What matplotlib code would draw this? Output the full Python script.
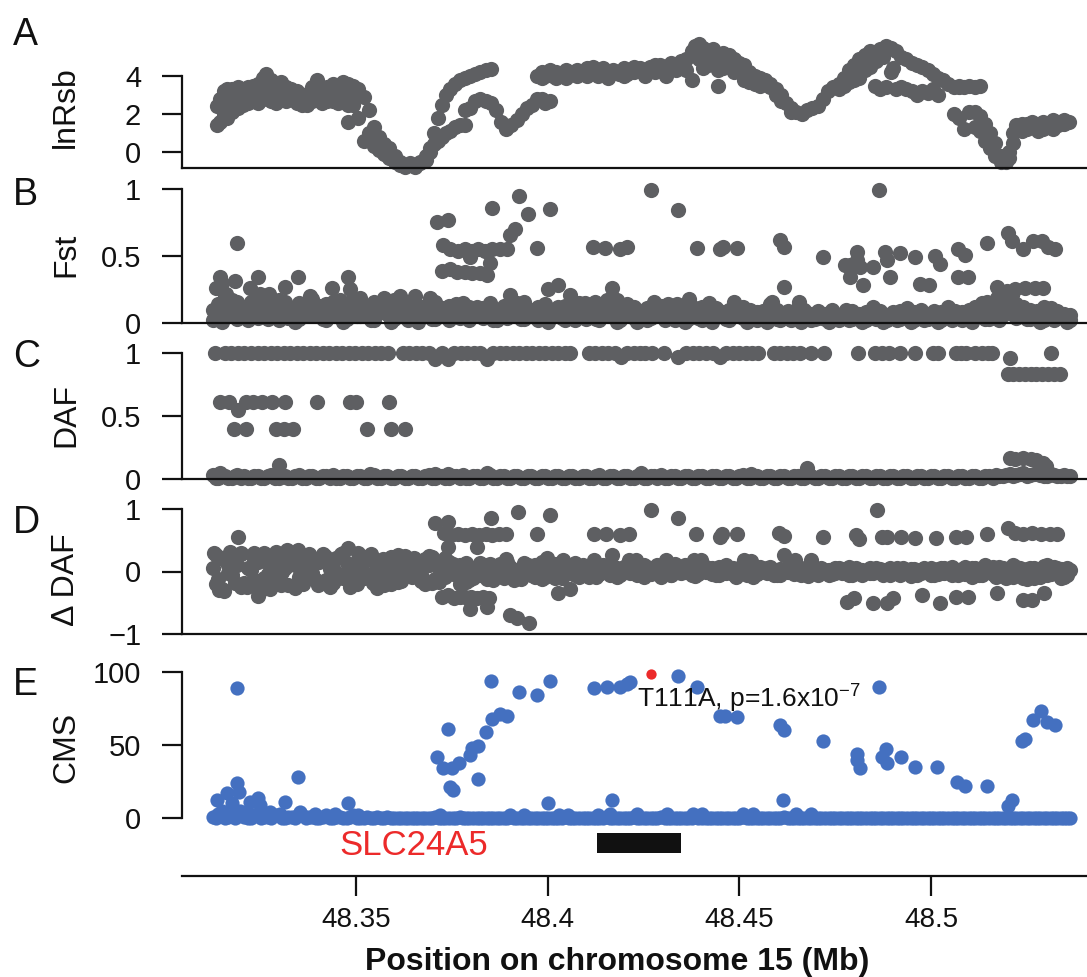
import matplotlib
matplotlib.use("Agg")
import matplotlib.pyplot as plt
from matplotlib.patches import Rectangle

plt.rcParams['font.family'] = ['Liberation Sans', 'DejaVu Sans']
plt.rcParams['mathtext.fontset'] = 'custom'
plt.rcParams['mathtext.rm'] = 'Liberation Sans'
plt.rcParams['mathtext.it'] = 'Liberation Sans:italic'
plt.rcParams['mathtext.bf'] = 'Liberation Sans:bold'

# ---------------- data ----------------
x_ticks = [48.35, 48.4, 48.45, 48.5]
x_tick_labels = ['48.35', '48.4', '48.45', '48.5']
nan = float('nan')

# panel A : lnRsb (two tracks + extras)
lnrsb_pos = [
    48.3137, 48.3145, 48.3156, 48.3164, 48.3177, 48.3191, 48.3204, 48.3218, 48.3231, 48.3245,
    48.3258, 48.3266, 48.3277, 48.3291, 48.3304, 48.3318, 48.3331, 48.3345, 48.3358, 48.3371,
    48.3385, 48.3398, 48.3412, 48.3425, 48.3439, 48.3452, 48.3466, 48.3479, 48.3493, 48.3506,
    48.3520, 48.3533, 48.3547, 48.3560, 48.3574, 48.3587, 48.3601, 48.3614, 48.3628, 48.3641,
    48.3655, 48.3668, 48.3682, 48.3692, 48.3703, 48.3714, 48.3725, 48.3735, 48.3746, 48.3757,
    48.3770, 48.3784, 48.3797, 48.3811, 48.3824, 48.3838, 48.3851, 48.3865, 48.3878, 48.3892,
    48.3905, 48.3919, 48.3932, 48.3946, 48.3959, 48.3972, 48.3986, 48.3994, 48.4007, 48.4021,
    48.4035, 48.4048, 48.4062, 48.4076, 48.4089, 48.4103, 48.4117, 48.4130, 48.4144, 48.4158,
    48.4171, 48.4185, 48.4199, 48.4212, 48.4226, 48.4240, 48.4253, 48.4267, 48.4281, 48.4294,
    48.4308, 48.4322, 48.4335, 48.4349, 48.4362, 48.4376, 48.4384, 48.4395, 48.4406, 48.4417,
    48.4431, 48.4444, 48.4458, 48.4472, 48.4485, 48.4499, 48.4513, 48.4526, 48.4540, 48.4554,
    48.4567, 48.4581, 48.4595, 48.4608, 48.4622, 48.4636, 48.4649, 48.4663, 48.4677, 48.4690,
    48.4704, 48.4718, 48.4731, 48.4745, 48.4759, 48.4772, 48.4786, 48.4800, 48.4813, 48.4827,
    48.4841, 48.4854, 48.4868, 48.4882, 48.4895, 48.4909, 48.4922, 48.4936, 48.4950, 48.4963,
    48.4977, 48.4991, 48.5004, 48.5018, 48.5032, 48.5045, 48.5059, 48.5073, 48.5086, 48.5100,
    48.5114, 48.5127, 48.5141, 48.5155, 48.5168, 48.5182, 48.5196, 48.5204, 48.5215, 48.5223,
    48.5237, 48.5250, 48.5264, 48.5278, 48.5291, 48.5305, 48.5319, 48.5332, 48.5346, 48.5360]
lnrsb_hi = [
    2.4, 2.8, 3.2, 3.3, 3.3, 3.4, 3.2, 3.4, 3.5, 3.6,
    3.9, 4.1, 3.8, 3.5, 3.7, 3.4, 3.3, 3.2, 3.0, 2.9,
    3.4, 3.8, 3.3, 3.4, 3.6, 3.3, 3.7, 3.6, 3.5, 3.3,
    2.9, 2.2, 1.3, 0.8, 0.4, 0.2, -0.2, -0.5, -0.7, -0.6,
    -0.7, -0.5, -0.2, 0.2, 1.0, 1.8, 2.5, 3.0, 3.3, 3.6,
    3.8, 3.9, 4.0, 4.1, 4.2, 4.3, 4.35, nan, nan, nan,
    nan, nan, nan, nan, nan, 4.0, 4.2, 4.0, 4.3, 4.2,
    4.1, 4.3, 4.2, 4.3, 4.2, 4.4, 4.5, 4.3, 4.4, 4.2,
    4.3, 4.1, 4.4, 4.3, 4.5, 4.4, 4.3, 4.5, 4.6, 4.6,
    4.4, 4.7, 4.6, 4.8, 4.9, 5.3, 5.6, 5.7, 5.5, 5.2,
    5.4, 5.0, 5.2, 5.1, 4.9, 4.7, 4.6, 4.2, 4.0, 3.9,
    3.8, 3.6, 3.3, 3.0, 2.6, 2.3, 2.1, 2.0, 2.2, 2.3,
    2.4, 2.8, 3.2, 3.4, 3.6, 3.9, 4.3, 4.6, 4.9, 5.1,
    5.3, 5.2, 5.4, 5.6, 5.5, 5.3, 5.0, 4.9, 4.7, 4.6,
    4.5, 4.3, 4.1, 3.9, 3.8, 3.6, 3.4, 3.5, 3.4, 3.5,
    3.4, 3.5, 1.5, 1.0, 0.5, -0.2, -0.5, 0.0, 1.0, 1.4,
    1.5, 1.5, 1.6, 1.5, 1.6, 1.5, 1.7, 1.6, 1.7, 1.6]
lnrsb_lo = [
    1.4, 1.6, 2.0, 1.8, 2.1, 2.3, 2.5, 2.6, 2.7, 2.6,
    2.8, 3.0, 2.7, 2.6, 2.8, 2.7, 2.8, 2.6, 2.5, 2.5,
    2.7, 2.8, 2.6, 2.7, 2.7, 2.6, 2.7, 1.6, 2.5, 1.8,
    0.6, 1.0, 0.3, 0.1, -0.1, -0.3, -0.5, -0.7, -0.8, -0.7,
    -0.8, -0.6, -0.4, 0.0, 0.4, 0.6, 0.8, 1.0, 1.1, 1.3,
    1.4, 1.4, 2.3, 2.7, 2.8, 2.7, 2.6, 2.2, 1.6, 1.2,
    1.4, 1.7, 2.0, 2.3, 2.5, 2.8, 3.9, 2.6, 2.7, 3.9,
    nan, 3.9, nan, 4.0, nan, 4.0, nan, 4.0, nan, 3.9,
    nan, nan, 4.0, nan, 4.2, nan, 4.0, nan, 4.2, nan,
    4.0, nan, 4.3, nan, 4.3, 3.8, nan, 4.9, 4.4, 4.6,
    4.8, 4.3, 4.4, 4.6, 4.2, 4.4, 3.8, 3.7, 3.6, 3.5,
    3.6, 3.4, 3.0, 2.7, nan, 2.1, nan, nan, nan, nan,
    nan, nan, nan, nan, 3.3, 3.5, 3.7, 3.8, 3.9, 4.3,
    4.5, 3.5, 3.3, 3.4, 4.2, 3.3, 3.4, 3.3, 3.2, 3.0,
    3.2, 3.1, 3.3, 3.0, nan, nan, 2.0, 1.8, 1.2, 2.1,
    2.1, 1.9, 0.6, 0.2, -0.2, -0.5, nan, -0.3, 0.5, 1.2,
    1.1, 1.2, 1.3, 1.1, 1.2, 1.3, 1.2, 1.4, 1.5, nan]
lnrsb_extra_pos = [
    48.3191, 48.3784, 48.3986, 48.4444, 48.5073, 48.5114, 48.5127, 48.3479, 48.3150, 48.3170,
    48.3197, 48.3224, 48.3251, 48.3271, 48.3298, 48.3324, 48.3351, 48.3378, 48.3405, 48.3432,
    48.3459, 48.3486, 48.3500, 48.4014, 48.4041, 48.4069, 48.4096, 48.4124, 48.4151, 48.4178,
    48.4206, 48.4233, 48.4260, 48.4288, 48.4315, 48.4342, 48.4390, 48.4856, 48.4875, 48.4902]
lnrsb_extra_val = [
    2.8, 2.2, 2.8, 3.5, 3.4, 1.3, 1.1, 2.5, 2.5, 2.8,
    3.0, 3.0, 3.2, 3.5, 3.2, 3.0, 2.9, 3.1, 3.2, 3.1,
    3.0, 3.0, 3.0, 4.0, 4.0, 4.1, 4.2, 4.2, 4.1, 4.2,
    4.1, 4.3, 4.2, 4.4, 4.5, 4.5, 5.1, 4.8, 5.0, 4.4]

# SNP positions used for the low-value bands of panels B-E
snp_pos = [
    48.3127, 48.3141, 48.3158, 48.3176, 48.3190, 48.3209, 48.3226, 48.3244, 48.3261, 48.3279,
    48.3298, 48.3314, 48.3333, 48.3350, 48.3369, 48.3385, 48.3404, 48.3422, 48.3439, 48.3457,
    48.3476, 48.3493, 48.3511, 48.3528, 48.3547, 48.3564, 48.3582, 48.3600, 48.3617, 48.3636,
    48.3653, 48.3671, 48.3690, 48.3707, 48.3725, 48.3742, 48.3761, 48.3778, 48.3796, 48.3815,
    48.3832, 48.3850, 48.3867, 48.3886, 48.3903, 48.3921, 48.3939, 48.3957, 48.3975, 48.3992,
    48.4010, 48.4028, 48.4046, 48.4063, 48.4082, 48.4099, 48.4117, 48.4135, 48.4153, 48.4170,
    48.4189, 48.4206, 48.4224, 48.4242, 48.4260, 48.4277, 48.4296, 48.4313, 48.4331, 48.4349,
    48.4367, 48.4384, 48.4403, 48.4420, 48.4438, 48.4456, 48.4474, 48.4491, 48.4510, 48.4527,
    48.4545, 48.4563, 48.4581, 48.4598, 48.4617, 48.4634, 48.4652, 48.4670, 48.4688, 48.4705,
    48.4724, 48.4741, 48.4759, 48.4777, 48.4795, 48.4812, 48.4831, 48.4848, 48.4866, 48.4884,
    48.4902, 48.4919, 48.4938, 48.4955, 48.4973, 48.4991, 48.5009, 48.5026, 48.5045, 48.5062,
    48.5080, 48.5098, 48.5116, 48.5133, 48.5152, 48.5169, 48.5187, 48.5205, 48.5223, 48.5240,
    48.5259, 48.5276, 48.5294, 48.5312, 48.5330, 48.5347, 48.5362]
snp_pos2 = [
    48.3134, 48.3150, 48.3167, 48.3183, 48.3199, 48.3217, 48.3235, 48.3252, 48.3270, 48.3288,
    48.3306, 48.3323, 48.3341, 48.3360, 48.3377, 48.3395, 48.3413, 48.3431, 48.3448, 48.3467,
    48.3485, 48.3502, 48.3520, 48.3538, 48.3556, 48.3573, 48.3591, 48.3609, 48.3627, 48.3645,
    48.3662, 48.3680, 48.3699, 48.3716, 48.3733, 48.3752, 48.3770, 48.3787, 48.3806, 48.3824,
    48.3841, 48.3858, 48.3876, 48.3895, 48.3912, 48.3930, 48.3948, 48.3966, 48.3984, 48.4001,
    48.4019, 48.4037, 48.4055, 48.4072, 48.4091, 48.4108, 48.4126, 48.4144, 48.4162, 48.4180,
    48.4198, 48.4215, 48.4233, 48.4251, 48.4269, 48.4286, 48.4305, 48.4322, 48.4340, 48.4358,
    48.4376, 48.4393, 48.4412, 48.4429, 48.4447, 48.4465, 48.4483, 48.4500, 48.4519, 48.4536,
    48.4554, 48.4572, 48.4590, 48.4607, 48.4626, 48.4643, 48.4661, 48.4679, 48.4697, 48.4714,
    48.4733, 48.4750, 48.4768, 48.4786, 48.4804, 48.4821, 48.4840, 48.4857, 48.4875, 48.4893,
    48.4911, 48.4928, 48.4947, 48.4964, 48.4982, 48.5000, 48.5018, 48.5035, 48.5054, 48.5071,
    48.5089, 48.5107, 48.5125, 48.5142, 48.5161, 48.5178, 48.5196, 48.5214, 48.5232, 48.5250,
    48.5268, 48.5285, 48.5303, 48.5321, 48.5339, 48.5355]

# panel B : Fst
fst_base = [
    0.02, 0.14, 0.05, 0.17, 0.03, 0.12, 0.16, 0.04, 0.15, 0.08,
    0.02, 0.16, 0.10, 0.03, 0.15, 0.06, 0.13, 0.02, 0.16, 0.09,
    0.03, 0.15, 0.05, 0.12, 0.02, 0.08, 0.14, 0.03, 0.10, 0.02,
    0.13, 0.05, 0.15, 0.03, 0.11, 0.02, 0.14, 0.06, 0.02, 0.12,
    0.04, 0.09, 0.02, 0.13, 0.05, 0.15, 0.03, 0.10, 0.02, 0.14,
    0.05, 0.12, 0.02, 0.08, 0.15, 0.03, 0.10, 0.02, 0.13, 0.06,
    0.02, 0.14, 0.04, 0.09, 0.02, 0.12, 0.05, 0.14, 0.02, 0.08,
    0.03, 0.11, 0.02, 0.15, 0.05, 0.08, 0.02, 0.13, 0.04, 0.10,
    0.02, 0.09, 0.14, 0.03, 0.07, 0.02, 0.11, 0.04, 0.02, 0.09,
    0.03, 0.06, 0.02, 0.10, 0.03, 0.07, 0.02, 0.12, 0.04, 0.02,
    0.08, 0.03, 0.11, 0.02, 0.06, 0.03, 0.09, 0.02, 0.12, 0.04,
    0.02, 0.10, 0.05, 0.15, 0.03, 0.13, 0.06, 0.16, 0.04, 0.12,
    0.03, 0.09, 0.02, 0.11, 0.04, 0.07, 0.02]
fst_base2 = [
    0.08, 0.01, 0.10, 0.06, 0.09, 0.02, 0.07, 0.10, 0.03, 0.12,
    0.07, 0.04, 0.01, 0.09, 0.06, 0.11, 0.03, 0.09, 0.05, 0.01,
    0.09, 0.05, 0.10, 0.02, 0.09, 0.12, 0.01, 0.08, 0.05, 0.10,
    0.01, 0.09, 0.03, 0.10, 0.06, 0.09, 0.04, 0.11, 0.07, 0.05,
    0.10, 0.02, 0.08, 0.04, 0.10, 0.03, 0.08, 0.05, 0.09, 0.01,
    0.09, 0.04, 0.09, 0.02, 0.06, 0.10, 0.03, 0.09, 0.05, 0.01,
    0.09, 0.05, 0.01, 0.08, 0.04, 0.07, 0.02, 0.06, 0.09, 0.01,
    0.07, 0.04, 0.08, 0.01, 0.09, 0.03, 0.07, 0.05, 0.01, 0.06,
    0.05, 0.01, 0.06, 0.02, 0.09, 0.04, 0.01, 0.07, 0.03, 0.05,
    0.01, 0.04, 0.07, 0.02, 0.05, 0.01, 0.06, 0.03, 0.01, 0.05,
    0.02, 0.06, 0.01, 0.05, 0.02, 0.06, 0.01, 0.05, 0.02, 0.07,
    0.05, 0.01, 0.09, 0.03, 0.08, 0.02, 0.10, 0.07, 0.09, 0.03,
    0.06, 0.01, 0.08, 0.02, 0.05, 0.01]
fst_base3 = [
    0.10, 0.07, 0.20, 0.09, 0.16, 0.06, 0.10, 0.18, 0.08, 0.13,
    0.17, 0.09, 0.06, 0.15, 0.08, 0.18, 0.07, 0.14, 0.10, 0.17,
    0.08, 0.18, 0.11, 0.06, 0.16, 0.12, 0.07, 0.17, 0.05, 0.14,
    0.07, 0.12, 0.08, 0.16, 0.06, 0.13, 0.09, 0.15, 0.12, 0.06,
    0.11, 0.15, 0.07, 0.06, 0.12, 0.08, 0.16, 0.05, 0.12, 0.07,
    0.10, 0.06, 0.13, 0.11, 0.07, 0.12, 0.06, 0.14, 0.08, 0.11,
    0.11, 0.07, 0.12, 0.05, 0.11, 0.06, 0.13, 0.08, 0.11, 0.05,
    0.10, 0.06, 0.12, 0.07, 0.11, 0.05, 0.10, 0.07, 0.12, 0.05,
    0.08, 0.05, 0.06, 0.10, 0.04, 0.08, 0.06, 0.10, 0.07, 0.04,
    0.07, 0.10, 0.05, 0.06, 0.09, 0.04, 0.08, 0.06, 0.09, 0.06,
    0.05, 0.09, 0.06, 0.08, 0.10, 0.07, 0.05, 0.08, 0.06, 0.09,
    0.08, 0.06, 0.12, 0.09, 0.11, 0.07, 0.13, 0.10, 0.14, 0.08,
    0.10, 0.06, 0.12, 0.07, 0.09, 0.05, 0.06]
fst_pos = [
    48.3135, 48.3150, 48.3145, 48.3184, 48.3190, 48.3161, 48.3223, 48.3244, 48.3250, 48.3273,
    48.3315, 48.3349, 48.3380, 48.3437, 48.3479, 48.3484, 48.3510, 48.3573, 48.3615, 48.3654,
    48.3693, 48.3711, 48.3740, 48.3855, 48.3925, 48.3949, 48.4006, 48.3902, 48.3915, 48.3972,
    48.3727, 48.3745, 48.3766, 48.3784, 48.3803, 48.3818, 48.3837, 48.3855, 48.3876, 48.3894,
    48.3797, 48.3850, 48.3724, 48.3745, 48.3764, 48.3784, 48.3803, 48.3824, 48.3842, 48.3902,
    48.4001, 48.4027, 48.4058, 48.4097, 48.4124, 48.4155, 48.4168, 48.4118, 48.4150, 48.4189,
    48.4207, 48.4270, 48.4340, 48.4864, 48.4390, 48.4450, 48.4458, 48.4494, 48.4606, 48.4617,
    48.4617, 48.4718, 48.4776, 48.4789, 48.4807, 48.4807, 48.4849, 48.4815, 48.4789, 48.4823,
    48.4880, 48.4885, 48.4919, 48.4958, 48.4893, 48.5011, 48.5024, 48.4971, 48.4995, 48.5071,
    48.5089, 48.5071, 48.5097, 48.5146, 48.5172, 48.5201, 48.5211, 48.5240, 48.5266, 48.5290,
    48.5305, 48.5324, 48.5198, 48.5219, 48.5245, 48.5271, 48.5292, 48.5211, 48.4181, 48.4278,
    48.4338, 48.4369, 48.4486, 48.4585, 48.4655, 48.5146, 48.5172]
fst_val = [
    0.26, 0.30, 0.34, 0.31, 0.60, 0.22, 0.26, 0.34, 0.22, 0.22,
    0.27, 0.34, 0.20, 0.26, 0.34, 0.25, 0.19, 0.19, 0.20, 0.20,
    0.19, 0.75, 0.77, 0.86, 0.95, 0.81, 0.85, 0.66, 0.70, 0.56,
    0.58, 0.55, 0.54, 0.55, 0.54, 0.55, 0.54, 0.55, 0.55, 0.55,
    0.49, 0.45, 0.39, 0.40, 0.38, 0.38, 0.37, 0.37, 0.36, 0.21,
    0.25, 0.28, 0.21, 0.15, 0.16, 0.17, 0.26, 0.57, 0.56, 0.55,
    0.57, 0.99, 0.84, 0.99, 0.56, 0.55, 0.57, 0.56, 0.62, 0.57,
    0.27, 0.49, 0.43, 0.43, 0.53, 0.47, 0.42, 0.42, 0.34, 0.28,
    0.53, 0.47, 0.52, 0.49, 0.34, 0.50, 0.44, 0.29, 0.28, 0.55,
    0.51, 0.34, 0.34, 0.60, 0.27, 0.67, 0.61, 0.55, 0.61, 0.61,
    0.57, 0.55, 0.24, 0.25, 0.26, 0.26, 0.26, 0.21, 0.17, 0.16,
    0.14, 0.18, 0.16, 0.16, 0.16, 0.16, 0.19]

# panel C : DAF
daf_base = [
    0.03, 0.01, 0.02, 0.01, 0.03, 0.02, 0.01, 0.02, 0.01, 0.03,
    0.01, 0.02, 0.01, 0.03, 0.01, 0.02, 0.01, 0.02, 0.03, 0.01,
    0.02, 0.01, 0.02, 0.01, 0.03, 0.01, 0.02, 0.01, 0.02, 0.01,
    0.02, 0.01, 0.03, 0.01, 0.02, 0.01, 0.02, 0.03, 0.01, 0.02,
    0.01, 0.03, 0.01, 0.02, 0.01, 0.02, 0.01, 0.02, 0.01, 0.02,
    0.01, 0.02, 0.01, 0.02, 0.01, 0.02, 0.01, 0.03, 0.01, 0.02,
    0.01, 0.02, 0.01, 0.02, 0.01, 0.02, 0.03, 0.01, 0.02, 0.01,
    0.02, 0.01, 0.02, 0.01, 0.02, 0.01, 0.02, 0.01, 0.03, 0.01,
    0.02, 0.01, 0.02, 0.01, 0.02, 0.01, 0.02, 0.01, 0.02, 0.01,
    0.02, 0.01, 0.02, 0.01, 0.02, 0.01, 0.02, 0.01, 0.02, 0.01,
    0.02, 0.01, 0.02, 0.01, 0.02, 0.01, 0.02, 0.01, 0.02, 0.01,
    0.02, 0.01, 0.02, 0.01, 0.02, 0.03, 0.02, 0.04, 0.03, 0.05,
    0.03, 0.05, 0.02, 0.04, 0.02, 0.03, 0.02]
daf_base2 = [
    0.01, 0.02, 0.01, 0.02, 0.01, 0.01, 0.02, 0.01, 0.02, 0.01,
    0.02, 0.01, 0.02, 0.01, 0.02, 0.01, 0.02, 0.01, 0.01, 0.02,
    0.01, 0.02, 0.01, 0.02, 0.01, 0.02, 0.01, 0.02, 0.01, 0.02,
    0.01, 0.02, 0.01, 0.02, 0.01, 0.02, 0.01, 0.01, 0.02, 0.01,
    0.02, 0.01, 0.02, 0.01, 0.02, 0.01, 0.02, 0.01, 0.02, 0.01,
    0.02, 0.01, 0.02, 0.01, 0.02, 0.01, 0.02, 0.01, 0.02, 0.01,
    0.02, 0.01, 0.02, 0.01, 0.02, 0.01, 0.01, 0.02, 0.01, 0.02,
    0.01, 0.02, 0.01, 0.02, 0.01, 0.02, 0.01, 0.02, 0.01, 0.02,
    0.01, 0.02, 0.01, 0.02, 0.01, 0.02, 0.01, 0.02, 0.01, 0.02,
    0.01, 0.02, 0.01, 0.02, 0.01, 0.02, 0.01, 0.02, 0.01, 0.02,
    0.01, 0.02, 0.01, 0.02, 0.01, 0.02, 0.01, 0.02, 0.01, 0.02,
    0.01, 0.02, 0.01, 0.02, 0.01, 0.02, 0.03, 0.02, 0.04, 0.02,
    0.04, 0.03, 0.02, 0.03, 0.02, 0.02]
daf_top_pos = [
    48.3133, 48.3158, 48.3175, 48.3192, 48.3209, 48.3226, 48.3243, 48.3260, 48.3277, 48.3294,
    48.3311, 48.3328, 48.3345, 48.3362, 48.3379, 48.3396, 48.3413, 48.3430, 48.3447, 48.3464,
    48.3481, 48.3498, 48.3515, 48.3532, 48.3549, 48.3566, 48.3583, 48.3622, 48.3639, 48.3656,
    48.3673, 48.3690, 48.3707, 48.3724, 48.3739, 48.3756, 48.3773, 48.3790, 48.3807, 48.3824,
    48.3842, 48.3858, 48.3875, 48.3892, 48.3909, 48.3926, 48.3943, 48.3960, 48.3977, 48.3994,
    48.4011, 48.4028, 48.4045, 48.4057, 48.4107, 48.4124, 48.4141, 48.4158, 48.4175, 48.4190,
    48.4207, 48.4224, 48.4241, 48.4253, 48.4271, 48.4303, 48.4340, 48.4362, 48.4379, 48.4396,
    48.4413, 48.4430, 48.4449, 48.4466, 48.4483, 48.4500, 48.4517, 48.4534, 48.4549, 48.4590,
    48.4607, 48.4624, 48.4641, 48.4658, 48.4686, 48.4722, 48.4809, 48.4854, 48.4872, 48.4891,
    48.4918, 48.4959, 48.5004, 48.5018, 48.5064, 48.5078, 48.5091, 48.5114, 48.5132, 48.5150,
    48.5159, 48.5205, 48.5314]
daf_top_val = [
    1.0, 1.0, 1.0, 1.0, 1.0, 1.0, 1.0, 1.0, 1.0, 1.0,
    1.0, 1.0, 1.0, 1.0, 1.0, 1.0, 1.0, 1.0, 1.0, 1.0,
    1.0, 1.0, 1.0, 1.0, 1.0, 1.0, 1.0, 1.0, 1.0, 1.0,
    1.0, 1.0, 0.95, 1.0, 0.95, 1.0, 1.0, 1.0, 1.0, 1.0,
    0.95, 1.0, 1.0, 1.0, 1.0, 1.0, 1.0, 1.0, 1.0, 1.0,
    1.0, 1.0, 1.0, 1.0, 1.0, 1.0, 1.0, 1.0, 1.0, 0.97,
    1.0, 1.0, 1.0, 1.0, 1.0, 1.0, 0.97, 1.0, 1.0, 1.0,
    1.0, 1.0, 0.97, 1.0, 1.0, 1.0, 1.0, 1.0, 1.0, 1.0,
    1.0, 1.0, 1.0, 1.0, 1.0, 1.0, 1.0, 1.0, 1.0, 1.0,
    1.0, 1.0, 1.0, 1.0, 1.0, 1.0, 1.0, 1.0, 1.0, 1.0,
    1.0, 0.96, 1.0]
daf_pos = [
    48.3146, 48.3168, 48.3191, 48.3213, 48.3231, 48.3254, 48.3281, 48.3315, 48.3398, 48.3483,
    48.3501, 48.3586, 48.3182, 48.3213, 48.3290, 48.3312, 48.3335, 48.3528, 48.3591, 48.3627,
    48.3299, 48.5200, 48.5215, 48.5230, 48.5245, 48.5260, 48.5275, 48.5290, 48.5305, 48.5320,
    48.5337, 48.5205, 48.5220, 48.5240, 48.5260, 48.5275, 48.5291, 48.5300, 48.3146, 48.3537,
    48.3707, 48.3739, 48.3842, 48.4244, 48.4531, 48.4677]
daf_val = [
    0.61, 0.61, 0.55, 0.61, 0.61, 0.61, 0.61, 0.61, 0.61, 0.61,
    0.61, 0.61, 0.40, 0.40, 0.40, 0.40, 0.40, 0.40, 0.40, 0.40,
    0.11, 0.83, 0.83, 0.83, 0.83, 0.83, 0.83, 0.83, 0.83, 0.83,
    0.83, 0.17, 0.16, 0.17, 0.16, 0.15, 0.13, 0.10, 0.05, 0.04,
    0.04, 0.04, 0.05, 0.05, 0.04, 0.09]

# panel D : delta DAF
ddaf_base = [
    0.05, -0.12, 0.18, -0.05, 0.10, -0.18, 0.02, 0.15, -0.10, 0.08,
    -0.15, 0.05, 0.20, -0.08, 0.12, -0.03, 0.16, -0.14, 0.06, -0.05,
    0.14, -0.10, 0.04, 0.18, -0.12, 0.08, -0.04, 0.12, -0.15, 0.03,
    0.15, -0.08, 0.10, -0.12, 0.05, 0.16, -0.05, 0.02, -0.14, 0.08,
    -0.04, 0.12, 0.02, -0.10, 0.08, -0.02, 0.14, -0.06, 0.04, -0.08,
    0.06, -0.05, 0.10, 0.00, -0.08, 0.05, 0.12, -0.04, 0.08, 0.02,
    -0.06, 0.10, 0.03, -0.05, 0.08, 0.00, -0.08, 0.06, 0.12, -0.03,
    0.04, -0.07, 0.10, 0.02, -0.05, 0.07, 0.00, -0.08, 0.05, 0.09,
    -0.04, 0.03, 0.08, -0.06, 0.02, 0.06, -0.03, 0.00, 0.05, -0.05,
    0.02, -0.04, 0.05, 0.00, -0.06, 0.03, 0.01, -0.03, 0.04, -0.02,
    0.03, -0.05, 0.00, 0.04, -0.03, 0.02, -0.06, 0.05, 0.00, -0.04,
    0.04, -0.02, 0.06, -0.05, 0.02, -0.08, 0.05, -0.03, 0.08, -0.10,
    0.06, -0.06, 0.09, -0.04, 0.05, -0.08, 0.03]
ddaf_base2 = [
    -0.20, 0.22, -0.02, 0.12, -0.25, 0.06, -0.14, 0.24, -0.04, 0.18,
    0.00, -0.22, 0.10, 0.26, -0.06, 0.20, -0.18, 0.04, 0.22, -0.10,
    0.06, -0.20, 0.24, -0.04, 0.10, -0.22, 0.16, 0.00, 0.20, -0.08,
    -0.02, 0.20, -0.18, 0.06, 0.22, -0.02, 0.10, -0.16, 0.04, 0.14,
    -0.12, 0.06, -0.06, 0.16, -0.14, 0.04, -0.02, 0.10, -0.12, 0.06,
    -0.10, 0.08, -0.02, 0.14, 0.02, -0.08, 0.04, 0.10, -0.06, 0.05,
    0.08, -0.02, 0.06, -0.08, 0.04, 0.10, 0.02, -0.05, 0.06, 0.00,
    -0.06, 0.06, 0.00, -0.04, 0.08, -0.02, 0.05, 0.02, -0.06, 0.04,
    0.07, -0.02, -0.06, 0.04, 0.08, -0.04, 0.05, -0.07, 0.02, 0.06,
    -0.06, 0.05, -0.02, 0.07, 0.03, -0.05, 0.06, 0.02, -0.06, 0.05,
    -0.02, 0.06, -0.07, 0.03, 0.06, -0.05, 0.04, -0.02, 0.07, -0.06,
    0.08, -0.08, 0.02, 0.10, -0.04, 0.08, -0.10, 0.10, -0.06, 0.04,
    -0.10, 0.04, -0.06, 0.08, -0.10, 0.05]
ddaf_base3 = [
    0.26, -0.28, 0.10, -0.18, 0.30, -0.22, 0.20, -0.30, 0.14, -0.20,
    0.26, 0.12, -0.26, 0.04, 0.28, -0.14, 0.28, -0.24, -0.12, 0.30,
    -0.24, 0.16, -0.10, 0.28, -0.26, 0.14, -0.20, 0.26, -0.06, 0.20,
    0.10, -0.20, 0.24, -0.16, -0.08, 0.12, -0.20, 0.14, -0.10, -0.05,
    0.10, -0.14, 0.12, -0.04, 0.02, -0.12, 0.10, -0.08, 0.16, -0.04,
    0.12, -0.10, 0.06, -0.06, 0.10, -0.02, -0.08, 0.04, 0.12, -0.08,
    0.00, 0.08, -0.06, 0.10, -0.04, 0.02, 0.08, -0.06, 0.00, 0.10,
    0.02, -0.04, 0.08, 0.06, -0.06, 0.10, -0.04, 0.06, 0.02, -0.08,
    0.00, 0.06, 0.03, -0.05, 0.00, 0.05, -0.06, 0.04, -0.03, 0.02,
    0.03, -0.02, 0.04, -0.06, 0.06, 0.02, -0.03, 0.05, 0.03, -0.05,
    0.05, -0.03, 0.04, -0.06, 0.00, 0.05, -0.04, 0.06, -0.05, 0.03,
    -0.04, 0.06, -0.06, 0.03, 0.08, -0.05, 0.04, -0.08, 0.06, -0.12,
    0.05, -0.08, 0.10, -0.02, 0.04, -0.06]
ddaf_pos = [
    48.3130, 48.3143, 48.3155, 48.3170, 48.3191, 48.3200, 48.3215, 48.3233, 48.3245, 48.3260,
    48.3275, 48.3290, 48.3305, 48.3320, 48.3335, 48.3348, 48.3362, 48.3380, 48.3400, 48.3420,
    48.3440, 48.3460, 48.3478, 48.3490, 48.3505, 48.3525, 48.3545, 48.3570, 48.3591, 48.3610,
    48.3627, 48.3650, 48.3670, 48.3690, 48.3707, 48.3739, 48.3730, 48.3748, 48.3766, 48.3784,
    48.3802, 48.3820, 48.3838, 48.3856, 48.3874, 48.3892, 48.3739, 48.3815, 48.3851, 48.3923,
    48.3972, 48.3892, 48.3725, 48.3740, 48.3755, 48.3770, 48.3785, 48.3800, 48.3815, 48.3830,
    48.3847, 48.3797, 48.3842, 48.3901, 48.3919, 48.3950, 48.4007, 48.4270, 48.4340, 48.4859,
    48.4121, 48.4153, 48.4189, 48.4212, 48.4388, 48.4449, 48.4454, 48.4493, 48.4604, 48.4617,
    48.4719, 48.4804, 48.4813, 48.4872, 48.4886, 48.4921, 48.4959, 48.5014, 48.5064, 48.5091,
    48.5147, 48.5200, 48.5218, 48.5241, 48.5264, 48.5287, 48.5310, 48.5330, 48.4026, 48.4057,
    48.4781, 48.4800, 48.4850, 48.4886, 48.4900, 48.4977, 48.5023, 48.5064, 48.5096, 48.5173,
    48.5241, 48.5264, 48.5296, 48.3998, 48.4039, 48.4121, 48.4167, 48.4212, 48.4230, 48.4308,
    48.4381, 48.4399, 48.4513, 48.4531, 48.4617, 48.4645, 48.4686]
ddaf_val = [
    0.30, -0.30, -0.31, 0.32, 0.56, 0.28, -0.25, 0.30, -0.39, 0.30,
    -0.28, 0.31, -0.22, 0.34, 0.25, 0.34, -0.20, 0.25, -0.22, 0.25,
    -0.18, 0.28, 0.38, -0.20, 0.30, 0.22, -0.18, 0.20, 0.23, -0.16,
    0.25, 0.22, -0.15, 0.25, 0.77, 0.80, 0.62, 0.58, 0.60, 0.58,
    0.60, 0.58, 0.60, 0.58, 0.60, 0.60, 0.40, 0.40, 0.86, 0.95,
    0.60, 0.20, -0.41, -0.38, -0.42, -0.40, -0.41, -0.40, -0.42, -0.40,
    -0.43, -0.60, -0.57, -0.70, -0.75, -0.83, 0.90, 0.99, 0.85, 0.99,
    0.60, 0.60, 0.58, 0.60, 0.60, 0.56, 0.60, 0.60, 0.62, 0.57,
    0.55, 0.58, 0.52, 0.55, 0.55, 0.55, 0.54, 0.53, 0.56, 0.55,
    0.60, 0.70, 0.62, 0.60, 0.62, 0.60, 0.60, 0.60, -0.35, -0.28,
    -0.48, -0.42, -0.50, -0.50, -0.42, -0.38, -0.50, -0.40, -0.40, -0.35,
    -0.45, -0.45, -0.35, 0.22, 0.19, 0.19, 0.27, 0.19, 0.19, 0.19,
    0.19, 0.19, 0.19, 0.17, 0.27, 0.19, 0.19]

# panel E : CMS
cms_base = [
    1, 3, 0, 2, 4, 1, 0, 3, 1, 0,
    2, 0, 1, 3, 0, 1, 0, 2, 0, 1,
    0, 2, 0, 1, 0, 0, 1, 0, 0, 0,
    0, 0, 0, 1, 0, 0, 0, 0, 0, 0,
    0, 0, 0, 0, 1, 0, 0, 0, 0, 0,
    0, 0, 1, 0, 0, 0, 0, 0, 1, 0,
    0, 0, 1, 0, 0, 0, 1, 0, 0, 0,
    0, 1, 0, 0, 0, 0, 0, 0, 1, 0,
    0, 0, 0, 0, 1, 0, 0, 0, 0, 0,
    0, 0, 0, 0, 0, 0, 0, 0, 0, 0,
    0, 0, 0, 0, 0, 0, 0, 0, 0, 0,
    0, 0, 0, 0, 0, 0, 0, 0, 0, 0,
    0, 0, 0, 0, 0, 0, 0]
cms_base2 = [
    0, 2, 1, 0, 3, 0, 2, 0, 1, 2,
    0, 1, 0, 2, 1, 0, 1, 0, 1, 0,
    1, 0, 0, 0, 1, 0, 0, 0, 0, 0,
    0, 0, 0, 0, 0, 0, 1, 0, 0, 0,
    0, 0, 0, 0, 0, 0, 0, 0, 0, 0,
    0, 0, 0, 0, 0, 0, 0, 0, 0, 0,
    0, 0, 0, 0, 0, 0, 0, 0, 0, 0,
    0, 0, 0, 0, 0, 0, 0, 0, 0, 0,
    0, 0, 0, 0, 0, 0, 0, 0, 0, 0,
    0, 0, 0, 0, 0, 0, 0, 0, 0, 0,
    0, 0, 0, 0, 0, 0, 0, 0, 0, 0,
    0, 0, 0, 0, 0, 0, 0, 0, 0, 0,
    0, 0, 0, 0, 0, 0]
cms_pos = [
    48.3190, 48.3137, 48.3163, 48.3176, 48.3190, 48.3195, 48.3223, 48.3244, 48.3250, 48.3315,
    48.3349, 48.3276, 48.3479, 48.3711, 48.3740, 48.3727, 48.3750, 48.3745, 48.3752, 48.3769,
    48.3797, 48.3803, 48.3818, 48.3818, 48.3839, 48.3855, 48.3876, 48.3894, 48.3852, 48.3925,
    48.3972, 48.4006, 48.4001, 48.4121, 48.4155, 48.4189, 48.4207, 48.4215, 48.4168, 48.4340,
    48.4390, 48.4450, 48.4463, 48.4494, 48.4606, 48.4617, 48.4614, 48.4718, 48.4807, 48.4807,
    48.4815, 48.4864, 48.4872, 48.4883, 48.4885, 48.4922, 48.4958, 48.5016, 48.5068, 48.5089,
    48.5146, 48.5201, 48.5211, 48.5237, 48.5245, 48.5266, 48.5287, 48.5303, 48.5324, 48.3150,
    48.3197, 48.3215, 48.3302, 48.3354, 48.3393, 48.3445, 48.3506, 48.3719, 48.3902, 48.3937,
    48.4030, 48.4052, 48.4130, 48.4163, 48.4233, 48.4311, 48.4380, 48.4403, 48.4510, 48.4536,
    48.4648, 48.4686]
cms_val = [
    89, 12, 17, 10, 24, 18, 11, 14, 9, 11,
    28, 4, 10, 42, 61, 34, 34, 21, 19, 38,
    43, 48, 49, 27, 59, 68, 71, 70, 94, 86,
    84, 94, 10, 89, 90, 90, 92, 93, 12, 97,
    90, 70, 70, 69, 64, 60, 12, 53, 44, 40,
    34, 90, 42, 47, 38, 42, 35, 35, 25, 22,
    22, 8, 12, 53, 54, 67, 73, 66, 64, 5,
    5, 4, 3, 4, 3, 3, 2, 2, 2, 2,
    2, 2, 2, 3, 3, 3, 3, 3, 3, 3,
    3, 3]
cms_top_pos = [48.4270]
cms_top_val = [98.6]
top_snp_label = 'T111A, p=1.6x10$^{\\mathregular{-7}}$'

gene_name = 'SLC24A5'
gene_start, gene_end = 48.4129, 48.4348

# ---------------- figure ----------------
W, H = 1087, 977
fig = plt.figure(figsize=(W / 100, H / 100), dpi=100)

GRAY = '#5e5f62'
BLUE = '#4470c0'
RED = '#ec2a2a'
INK = '#111111'
XLIM = (48.3046, 48.5407)
AX_LEFT = 182


def fx(px):
    return px / W


def fy(py):
    return 1 - py / H


def make_axes(top, bottom, p0, v0, p1, v1, ticks, labels, spine_lo, spine_hi):
    s = (v1 - v0) / (p1 - p0)
    ylo = v0 + (bottom - p0) * s
    yhi = v0 + (top - p0) * s
    ax = fig.add_axes([AX_LEFT / W, 1 - bottom / H, (W - AX_LEFT) / W, (bottom - top) / H])
    ax.set_xlim(*XLIM)
    ax.set_ylim(ylo, yhi)
    ax.patch.set_visible(False)
    for sp in ('top', 'right'):
        ax.spines[sp].set_visible(False)
    for sp in ('left', 'bottom'):
        ax.spines[sp].set_linewidth(1.6)
        ax.spines[sp].set_color(INK)
    ax.spines['left'].set_bounds(ylo if spine_lo is None else spine_lo, spine_hi)
    ax.set_yticks(ticks)
    ax.set_yticklabels(labels)
    ax.tick_params(axis='y', direction='out', length=14.4, width=1.6, pad=15,
                   labelsize=21, color=INK, labelcolor=INK)
    ax.tick_params(axis='x', bottom=False, labelbottom=False)
    return ax


DOT = 120
BDOT = 105


def dots(ax, xs, ys, size=DOT, color=GRAY, z=2):
    ax.scatter(xs, ys, s=size, c=color, linewidths=0, clip_on=False, zorder=z)


# A
axA = make_axes(30, 168, 76, 4, 152, 0, [0, 2, 4], ['0', '2', '4'], None, 4)
dots(axA, lnrsb_pos, lnrsb_hi)
dots(axA, lnrsb_pos, lnrsb_lo)
dots(axA, lnrsb_extra_pos, lnrsb_extra_val)

# B
axB = make_axes(175, 323, 189, 1, 323, 0, [0, 0.5, 1], ['0', '0.5', '1'], 0, 1)
dots(axB, snp_pos, fst_base3)
dots(axB, snp_pos, fst_base)
dots(axB, snp_pos2, fst_base2)
dots(axB, fst_pos, fst_val)

# C
axC = make_axes(335, 479, 353, 1, 479, 0, [0, 0.5, 1], ['0', '0.5', '1'], 0, 1)
dots(axC, snp_pos, daf_base)
dots(axC, snp_pos2, daf_base2)
dots(axC, daf_top_pos, daf_top_val)
dots(axC, daf_pos, daf_val)

# D
axD = make_axes(492, 634, 509, 1, 634, -1, [-1, 0, 1], ['\u22121', '0', '1'], -1, 1)
dots(axD, snp_pos, ddaf_base)
dots(axD, snp_pos2, ddaf_base2)
dots(axD, snp_pos2, ddaf_base3)
dots(axD, ddaf_pos, ddaf_val)

# E
axE = make_axes(650, 876, 672, 100, 818, 0, [0, 50, 100], ['0', '50', '100'], 0, 100)
dots(axE, snp_pos, cms_base, BDOT, BLUE)
dots(axE, snp_pos2, cms_base2, BDOT, BLUE)
dots(axE, cms_pos, cms_val, BDOT, BLUE)
dots(axE, cms_top_pos, cms_top_val, 55, RED, 4)
axE.text(48.4233, 75.3, top_snp_label, fontsize=19, ha='left', va='baseline', color=INK, zorder=5)
axE.add_patch(Rectangle((gene_start, -24.0), gene_end - gene_start, 13.7,
                        facecolor=INK, edgecolor='none'))
axE.text(48.3651, -25.3, gene_name, color=RED, fontsize=25, ha='center', va='baseline')
axE.set_xticks(x_ticks)
axE.set_xticklabels(x_tick_labels)
axE.tick_params(axis='x', bottom=True, labelbottom=True, direction='out', length=14.4,
                width=1.6, pad=8, labelsize=20, color=INK, labelcolor=INK)

# panel letters
for letter, py in (('A', 45), ('B', 205), ('C', 367), ('D', 533), ('E', 695)):
    fig.text(fx(13), fy(py), letter, fontsize=27, ha='left', va='baseline', color=INK)

# y labels
for lab, py in (('lnRsb', 107), ('Fst', 255), ('DAF', 415), ('\u0394 DAF', 580), ('CMS', 747)):
    fig.text(fx(66), fy(py), lab, fontsize=23, rotation=90, ha='center', va='center', color=INK)

fig.text(fx(617), fy(970), 'Position on chromosome 15 (Mb)', fontsize=23,
         fontweight='bold', ha='center', va='baseline', color=INK)

fig.savefig('out.png', dpi=100)
